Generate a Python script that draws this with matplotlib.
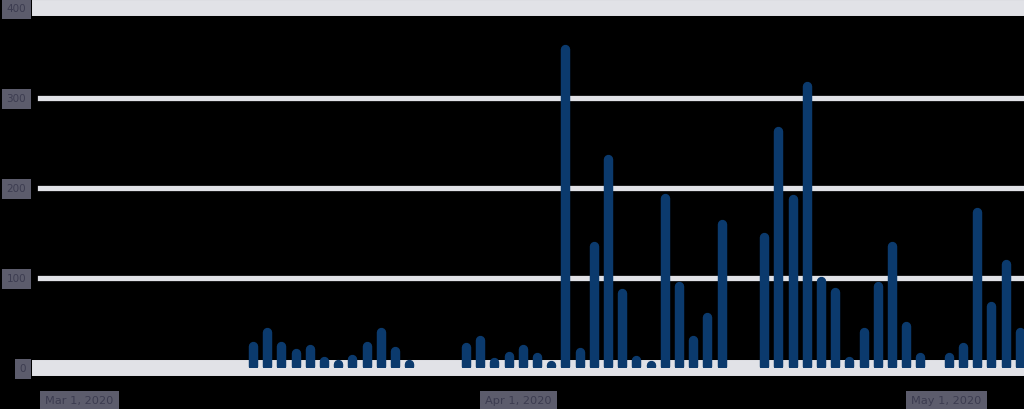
import numpy as np
import matplotlib
matplotlib.use('Agg')
import matplotlib.pyplot as plt
import matplotlib.transforms as mtransforms

# daily values, day 0 .. day 69
daily_values = [
    0, 0, 0, 0, 0, 0, 0, 0, 0, 0, 0, 0, 0, 0, 0,
    25, 40, 25, 17, 21, 8, 4, 10, 25, 40, 19, 4,
    0, 0, 0,
    23, 31, 7, 13, 21, 12, 3, 355, 18, 136, 232, 83, 9, 3, 189, 91, 31, 57, 160,
    0, 0,
    146, 263, 188, 313, 97, 84, 8, 40, 91, 136, 47, 12,
    0,
    12, 23, 173, 69, 116, 40,
]
y_ticks = [0, 100, 200, 300, 400]
y_tick_labels = ['0', '100', '200', '300', '400']
x_ticks = [0, 31, 61]
x_tick_labels = ['Mar 1, 2020', 'Apr 1, 2020', 'May 1, 2020']

bar_color = '#0b3a6d'
grid_color = '#e1e2e7'
label_box = '#5c5c6c'
label_text = '#3c3c50'

W, H = 1024, 409
fig = plt.figure(figsize=(W / 100, H / 100), dpi=100, facecolor='black')
ax = fig.add_axes([40 / W, (H - 368) / H, (W - 40) / W, 360 / H])
ax.set_facecolor('black')

days = np.arange(len(daily_values))
vals = np.array(daily_values, dtype=float)
mask = vals > 0

# gridlines (thick bands at 0 and top)
for y in y_ticks:
    lw = 11.5 if y in (0, 400) else 3.8
    ax.axhline(y, color=grid_color, lw=lw, zorder=1, clip_on=False)

ax.vlines(days[mask], 2, vals[mask], colors=bar_color, linewidth=6.8,
          capstyle='round', zorder=3)

ax.set_xlim(0, 69.3)
ax.set_ylim(0, 400)
for s in ax.spines.values():
    s.set_visible(False)

ax.set_yticks(y_ticks)
ax.set_yticklabels(y_tick_labels)
ax.set_xticks(x_ticks)
ax.set_xticklabels(x_tick_labels, ha='left')
ax.tick_params(axis='y', length=0, pad=10, labelsize=7.5, labelcolor=label_text)
ax.tick_params(axis='x', length=0, pad=20, labelsize=8.2, labelcolor=label_text)

shift = mtransforms.ScaledTranslation(5 / 100, 0, fig.dpi_scale_trans)
for lbl in ax.get_xticklabels():
    lbl.set_transform(lbl.get_transform() + shift)
for lbl in ax.get_yticklabels() + ax.get_xticklabels():
    lbl.set_bbox(dict(boxstyle='square,pad=0.45', fc=label_box, ec='none'))

fig.savefig('out.png', dpi=100, facecolor='black')
